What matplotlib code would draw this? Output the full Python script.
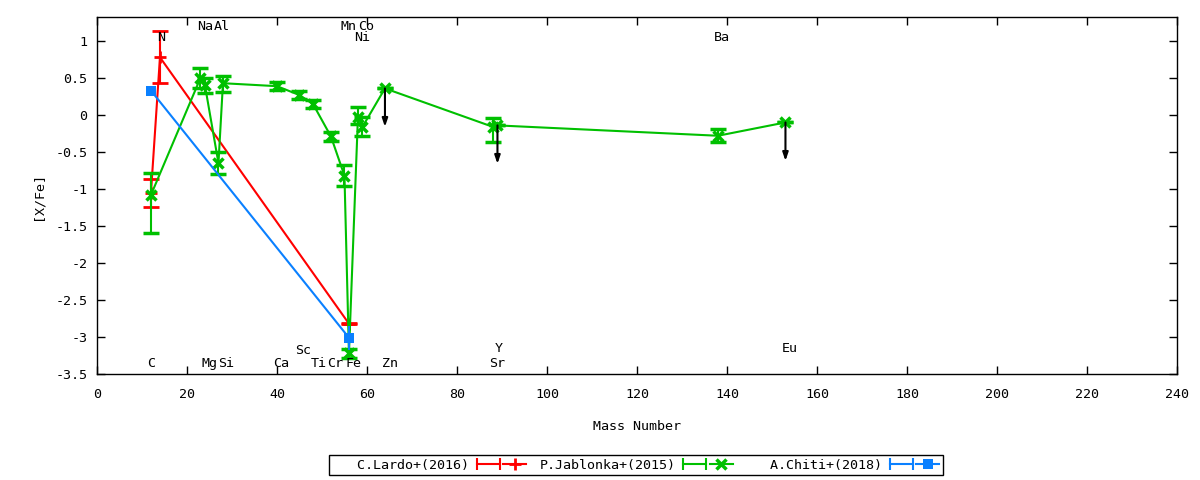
import numpy as np
import matplotlib
matplotlib.use('Agg')
import matplotlib.pyplot as plt
from matplotlib.lines import Line2D
from matplotlib.legend_handler import HandlerLine2D, HandlerTuple

# C.Lardo+(2016)
lardo_x = [12, 14, 56]
lardo_y = [-1.05, 0.78, -2.82]
lardo_err = [0.19, 0.35, 0.01]

# P.Jablonka+(2015)
jab_el = ['C', 'Na', 'Mg', 'Al', 'Si', 'Ca', 'Sc', 'Ti', 'Cr', 'Mn', 'Fe',
          'Ni', 'Co', 'Zn', 'Sr', 'Y', 'Ba', 'Eu']
jab_x = [12, 23, 24, 27, 28, 40, 45, 48, 52, 55, 56, 58, 59, 64, 88, 89, 138, 153]
jab_y = [-1.08, 0.50, 0.40, -0.65, 0.43, 0.39, 0.27, 0.15, -0.29, -0.82, -3.22,
         -0.02, -0.16, 0.36, -0.16, -0.14, -0.28, -0.10]
jab_err_lo = [0.51, 0.13, 0.10, 0.15, 0.12, 0.05, 0.05, 0.05, 0.06, 0.14, 0.06,
              0.10, 0.13, 0.0, 0.20, 0.0, 0.09, 0.0]
jab_err_hi = [0.30, 0.13, 0.10, 0.15, 0.10, 0.05, 0.05, 0.05, 0.06, 0.14, 0.06,
              0.13, 0.13, 0.0, 0.12, 0.0, 0.09, 0.0]
jab_upper = [0, 0, 0, 0, 0, 0, 0, 0, 0, 0, 0, 0, 0, 1, 0, 1, 0, 1]

# A.Chiti+(2018)
chiti_x = [12, 56]
chiti_y = [0.33, -3.01]
chiti_err = [0.0, 0.16]

# element labels
lab_names = ['C', 'N', 'Na', 'Mg', 'Al', 'Si', 'Ca', 'Sc', 'Ti', 'Cr', 'Mn', 'Fe',
             'Co', 'Ni', 'Zn', 'Sr', 'Y', 'Ba', 'Eu']
lab_x = [12.1, 14.2, 24.0, 25.1, 27.8, 28.8, 41.0, 45.9, 49.2, 52.9, 56.0, 57.0,
         59.9, 58.9, 65.1, 89.0, 89.2, 138.9, 154.0]
lab_y = [-3.36, 1.05, 1.19, -3.36, 1.19, -3.36, -3.36, -3.18, -3.36, -3.36, 1.19,
         -3.36, 1.19, 1.05, -3.36, -3.36, -3.15, 1.05, -3.15]

RED = '#ff0000'
GREEN = '#00c000'
BLUE = '#0a80ff'
FS = 9.6

plt.rcParams['font.family'] = ['DejaVu Sans Mono']
plt.rcParams['font.size'] = FS

fig = plt.figure(figsize=(12, 4.8), dpi=100)
ax = fig.add_axes([0.0808, 0.2208, 0.9, 0.7438])

lw = 1.5
eb_kw = dict(elinewidth=lw, capsize=5.5, capthick=lw, lw=lw)

ax.errorbar(lardo_x, lardo_y, yerr=lardo_err, color=RED, marker='+', ms=8,
            mew=2, zorder=3, **eb_kw)
ax.errorbar(jab_x, jab_y, yerr=[jab_err_lo, jab_err_hi], color=GREEN, marker='x',
            ms=7, mew=2.5, zorder=4, **eb_kw)
ax.errorbar(chiti_x, chiti_y, yerr=chiti_err, color=BLUE, marker='s', ms=7,
            mew=0, zorder=5, **eb_kw)

# upper limits
for x, y, ul in zip(jab_x, jab_y, jab_upper):
    if ul:
        ax.annotate('', xy=(x, y - 0.52), xytext=(x, y),
                    arrowprops=dict(arrowstyle='-|>,head_length=0.5,head_width=0.17',
                                    color='black', lw=1.5, shrinkA=0, shrinkB=0),
                    zorder=6)

for name, x, y in zip(lab_names, lab_x, lab_y):
    ax.text(x, y, name, ha='center', va='center', fontsize=FS, zorder=7)

ax.set_xlim(0, 240)
ax.set_ylim(-3.5, 1.325)
ax.set_xticks(np.arange(0, 241, 20))
ax.set_yticks(np.arange(-3.5, 1.01, 0.5))
ax.set_yticklabels(['%g' % v for v in np.arange(-3.5, 1.01, 0.5)])
ax.tick_params(direction='in', length=6, width=1, top=True, right=True,
               labelsize=FS, pad=7)
ax.tick_params(axis='x', pad=10)
for s in ax.spines.values():
    s.set_linewidth(1)
ax.set_xlabel('Mass Number', fontsize=FS, labelpad=14)
ax.set_ylabel('[X/Fe]', fontsize=FS, labelpad=8)

# legend in gnuplot style: text then sample with end caps
handles = []
hmap = {tuple: HandlerTuple(ndivide=None)}
for col, mk, ms, mew in [(RED, '+', 8, 2), (GREEN, 'x', 7, 2.5), (BLUE, 's', 7, 0)]:
    caps = Line2D([], [], color=col, lw=lw, marker='|', ms=9, mew=lw)
    mid = Line2D([], [], color=col, lw=lw, marker=mk, ms=ms, mew=mew)
    hmap[caps] = HandlerLine2D(numpoints=2, marker_pad=0)
    hmap[mid] = HandlerLine2D(numpoints=1)
    handles.append((caps, mid))
labels = ['   C.Lardo+(2016)', 'P.Jablonka+(2015)', '   A.Chiti+(2018)']
leg = fig.legend(handles, labels, handler_map=hmap, loc='center',
                 bbox_to_anchor=(0.53, 0.031), ncol=3, markerfirst=False,
                 frameon=True, fancybox=False, edgecolor='black', framealpha=1,
                 handlelength=3.7, handletextpad=0.6, columnspacing=1.0,
                 borderpad=0.25, fontsize=FS, prop={'family': 'DejaVu Sans Mono'})
leg.get_frame().set_linewidth(1)

fig.savefig('out.png', dpi=100)
